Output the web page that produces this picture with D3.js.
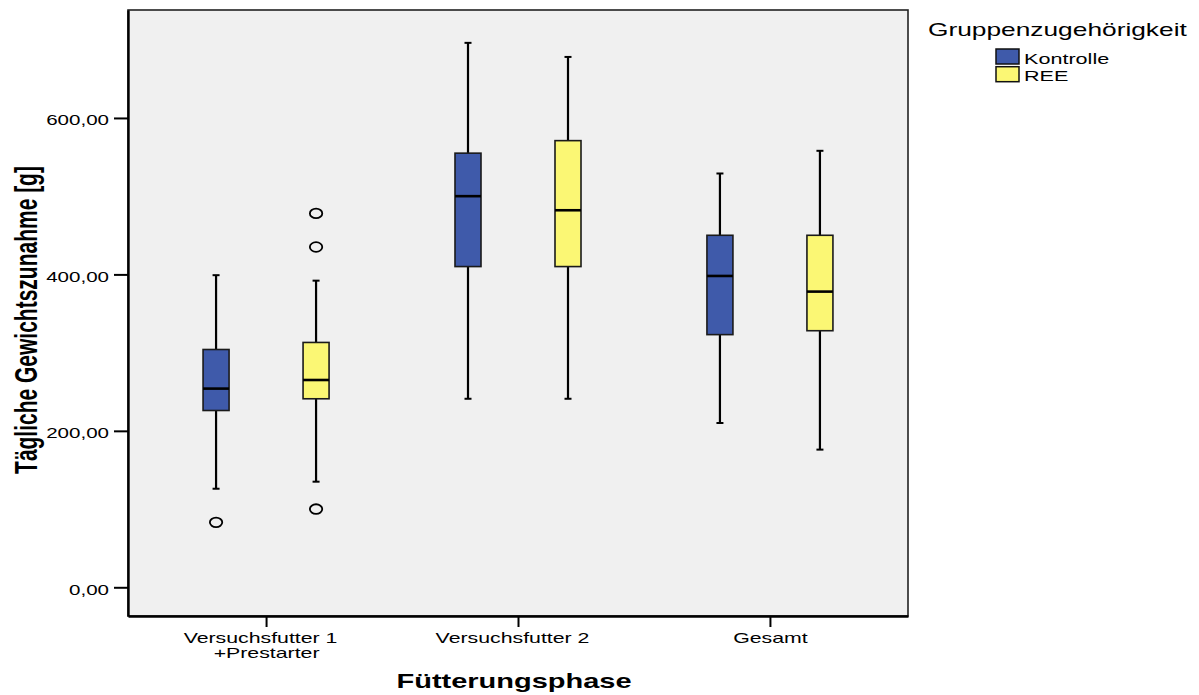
<!DOCTYPE html>
<html>
<head>
<meta charset="utf-8">
<script src="https://cdn.jsdelivr.net/npm/d3@7"></script>
<style>
  html, body { margin: 0; padding: 0; background: #ffffff; }
  svg { display: block; }
  text { font-family: "Liberation Sans", Arial, Helvetica, sans-serif; fill: #000; }
</style>
</head>
<body>
<svg id="chart" width="1199" height="695"></svg>
<script>
// ---------------- data ----------------
const categories = ["Versuchsfutter 1|+Prestarter", "Versuchsfutter 2", "Gesamt"];
const groups = ["Kontrolle", "REE"];
// five-number summaries per category: [whisker low, Q1, median, Q3, whisker high]
const kontrolleStats = [
  [126, 226, 254, 304, 399],
  [241, 410, 500, 555, 696],
  [210, 323, 398, 450, 529]
];
const reeStats = [
  [135, 241, 265, 313, 392],
  [241, 410, 482, 571, 678],
  [176, 328, 378, 450, 558]
];
// outliers per category
const kontrolleOutliers = [[83], [], []];
const reeOutliers = [[478, 435, 100], [], []];
const yTicks = [0, 200, 400, 600];
const groupColors = ["#3f5aaa", "#fbf774"];
const xTitle = "Fütterungsphase";
const yTitle = "Tägliche Gewichtszunahme [g]";
const legendTitle = "Gruppenzugehörigkeit";

// ---------------- layout ----------------
const svg = d3.select("#chart");
const plot = { left: 128, right: 908, top: 10, bottom: 616 };

const y = d3.scaleLinear().domain([-36.7, 738]).range([plot.bottom, plot.top]);
const x = d3.scalePoint().domain(categories).range([plot.left, plot.right]).padding(0.548);
const xg = d3.scaleBand().domain(groups).range([-100, 100]);
const color = d3.scaleOrdinal().domain(groups).range(groupColors);
const boxW = 26;
const capW = 7;

const statsByGroup = { "Kontrolle": kontrolleStats, "REE": reeStats };
const outByGroup = { "Kontrolle": kontrolleOutliers, "REE": reeOutliers };

// plot background
svg.append("rect")
  .attr("x", plot.left).attr("y", plot.top)
  .attr("width", plot.right - plot.left).attr("height", plot.bottom - plot.top)
  .attr("fill", "#f0f0f0").attr("stroke", "#222").attr("stroke-width", 1.6);

// ---------------- boxes ----------------
const boxes = [];
categories.forEach((c, ci) => {
  groups.forEach(g => {
    const s = statsByGroup[g][ci];
    boxes.push({ cat: c, group: g, lo: s[0], q1: s[1], med: s[2], q3: s[3], hi: s[4], out: outByGroup[g][ci] });
  });
});

const cx = d => x(d.cat) + xg(d.group) + xg.bandwidth() / 2;

const bg = svg.append("g").selectAll("g").data(boxes).join("g");

// whiskers
bg.append("line")
  .attr("x1", cx).attr("x2", cx)
  .attr("y1", d => y(d.hi)).attr("y2", d => y(d.q3))
  .attr("stroke", "#000").attr("stroke-width", 2.2);
bg.append("line")
  .attr("x1", cx).attr("x2", cx)
  .attr("y1", d => y(d.q1)).attr("y2", d => y(d.lo))
  .attr("stroke", "#000").attr("stroke-width", 2.2);
// caps
["hi", "lo"].forEach(k => {
  bg.append("line")
    .attr("x1", d => cx(d) - capW / 2).attr("x2", d => cx(d) + capW / 2)
    .attr("y1", d => y(d[k])).attr("y2", d => y(d[k]))
    .attr("stroke", "#000").attr("stroke-width", 2);
});
// box
bg.append("rect")
  .attr("x", d => cx(d) - boxW / 2).attr("width", boxW)
  .attr("y", d => y(d.q3)).attr("height", d => y(d.q1) - y(d.q3))
  .attr("fill", d => color(d.group))
  .attr("stroke", "#1a1a1a").attr("stroke-width", 1.6);
// median
bg.append("line")
  .attr("x1", d => cx(d) - boxW / 2).attr("x2", d => cx(d) + boxW / 2)
  .attr("y1", d => y(d.med)).attr("y2", d => y(d.med))
  .attr("stroke", "#000").attr("stroke-width", 2.6);
// outliers
bg.each(function(d) {
  d3.select(this).selectAll("ellipse").data(d.out).join("ellipse")
    .attr("cx", cx(d)).attr("cy", v => y(v))
    .attr("rx", 6.2).attr("ry", 4.8)
    .attr("fill", "none").attr("stroke", "#000").attr("stroke-width", 1.8);
});

// ---------------- axes ----------------
const deFmt = d3.formatLocale({ decimal: ",", thousands: ".", grouping: [3], currency: ["", " €"] }).format(".2f");

const SXT = 1.37;
const yAxis = svg.append("g")
  .attr("transform", `translate(${plot.left},0)`)
  .call(d3.axisLeft(y).tickValues(yTicks).tickFormat(deFmt).tickSize(14).tickSizeOuter(0).tickPadding(5));
yAxis.select(".domain").attr("stroke", "#000").attr("stroke-width", 2.4);
yAxis.selectAll(".tick line").attr("stroke", "#000").attr("stroke-width", 2);
yAxis.selectAll(".tick text")
  .attr("font-size", 15)
  .attr("font-family", '"Liberation Sans", Arial, sans-serif')
  .attr("fill", "#111")
  .attr("x", -19 / SXT)
  .attr("dy", "0.45em")
  .attr("transform", `scale(${SXT},1)`);

const SXL = 1.42;
const xAxis = svg.append("g")
  .attr("transform", `translate(0,${plot.bottom})`)
  .call(d3.axisBottom(x).tickSize(11).tickSizeOuter(0).tickFormat(""));
xAxis.select(".domain").attr("stroke", "#000").attr("stroke-width", 2.4);
xAxis.selectAll(".tick line").attr("stroke", "#000").attr("stroke-width", 2);
xAxis.selectAll(".tick").each(function(c, i) {
  const lines = c.split("|");
  const off = (i < 2) ? -6 : 0;
  const t = d3.select(this).append("text")
    .attr("text-anchor", "middle")
    .attr("font-size", 15)
    .attr("fill", "#111")
    .attr("transform", `translate(${off},0) scale(${SXL},1)`);
  lines.forEach((ln, li) => {
    t.append("tspan").attr("x", 0).attr("y", 27 + li * 15.5).text(ln);
  });
  if (lines.length > 1) t.selectAll("tspan").filter((d, k) => k === 1).attr("x", 6 / SXL);
});

// axis titles
svg.append("text")
  .attr("text-anchor", "middle")
  .attr("font-size", 21).attr("font-weight", "bold")
  .attr("transform", `translate(514,688) scale(1.38,1)`)
  .text(xTitle);

svg.append("text")
  .attr("text-anchor", "middle")
  .attr("font-size", 21).attr("font-weight", "bold")
  .attr("transform", `translate(36.5,320) scale(1.45,1) rotate(-90)`)
  .text(yTitle);

// ---------------- legend ----------------
svg.append("text")
  .attr("font-size", 19)
  .attr("transform", `translate(928,36) scale(1.385,1)`)
  .text(legendTitle);

const leg = svg.append("g").selectAll("g").data(groups).join("g")
  .attr("transform", (d, i) => `translate(996,${49 + i * 17.7})`);
leg.append("rect")
  .attr("width", 23).attr("height", 15)
  .attr("fill", d => color(d))
  .attr("stroke", "#111").attr("stroke-width", 1.5);
leg.append("text")
  .attr("font-size", 15)
  .attr("transform", `translate(28,14.5) scale(1.44,1)`)
  .text(d => d);
</script>
</body>
</html>
